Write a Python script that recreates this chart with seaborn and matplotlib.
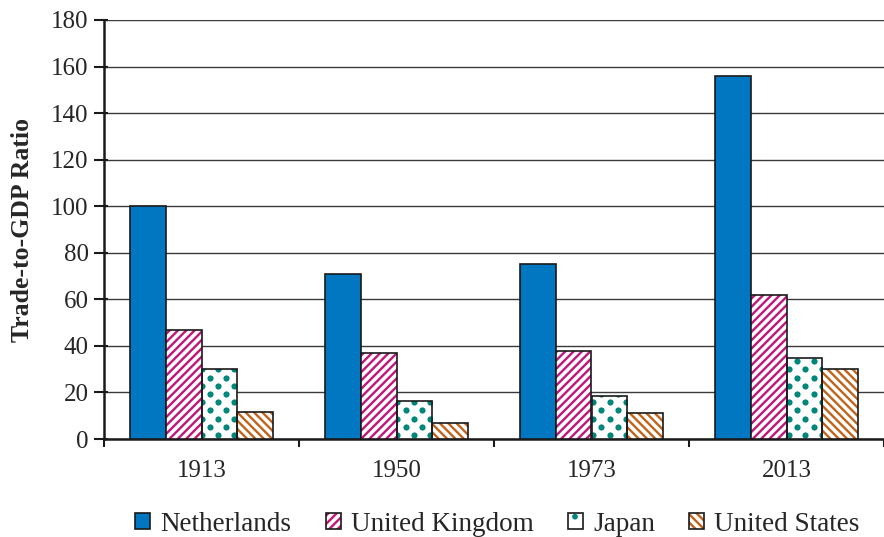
import numpy as np
import pandas as pd
import matplotlib
matplotlib.use("Agg")
import matplotlib.pyplot as plt
from matplotlib.patches import Patch, Rectangle
from matplotlib.legend_handler import HandlerTuple
import seaborn as sns

# ---- data -------------------------------------------------------------
years = ["1913", "1950", "1973", "2013"]
countries = ["Netherlands", "United Kingdom", "Japan", "United States"]
netherlands = [100, 71, 75, 156]
united_kingdom = [47, 37, 38, 62]
japan = [30, 16.5, 18.5, 35]
united_states = [11.5, 7, 11, 30]
y_ticks = [0, 20, 40, 60, 80, 100, 120, 140, 160, 180]
y_label = "Trade-to-GDP Ratio"

# ---- styling ----------------------------------------------------------
colors = {
    "Netherlands": "#0077C0",
    "United Kingdom": "#C0157A",
    "Japan": "#00857A",
    "United States": "#C0641C",
}
hatches = {"United Kingdom": "////", "United States": "\\\\\\\\"}
edge = "#1a1a1a"

sns.set_style("white")
plt.rcParams["font.family"] = ["Liberation Serif", "DejaVu Serif"]
plt.rcParams["hatch.linewidth"] = 1.7

df = pd.DataFrame({
    "year": years * 4,
    "country": np.repeat(countries, len(years)),
    "value": netherlands + united_kingdom + japan + united_states,
})

fig = plt.figure(figsize=(8.84, 5.37), dpi=100)
ax = fig.add_axes([104 / 884, 98 / 537, 780 / 884, 419 / 537])

sns.barplot(
    data=df, x="year", y="value", hue="country",
    order=years, hue_order=countries, palette=colors,
    width=0.73, saturation=1, edgecolor=edge, linewidth=1.2,
    legend=False, ax=ax, zorder=3,
)

ax.set_xlim(-0.5, 3.457)
ax.set_ylim(0, 180)

# per-pixel scale of the data axes, for the dotted fill
p0 = ax.transData.transform((0, 0))
p1 = ax.transData.transform((1, 1))
px_x, px_y = p1 - p0
dot_dx = 16.5 / px_x
dot_dy = 8.2 / px_y

for name, container in zip(countries, ax.containers):
    if name == "Netherlands":
        continue
    for bar in container:
        x0, y0 = bar.get_x(), bar.get_y()
        w, h = bar.get_width(), bar.get_height()
        bar.set_facecolor("white")
        bar.set_linewidth(0)
        if name in hatches:
            bar.set_edgecolor(colors[name])
            bar.set_hatch(hatches[name])
        else:
            bar.set_edgecolor("white")
            xs, ys = [], []
            k = 0
            y = dot_dy * 0.5
            while y < h + dot_dy:
                off = (k % 2) * dot_dx / 2
                start = np.floor((x0 - off) / dot_dx) * dot_dx + off
                for x in np.arange(start, x0 + w + dot_dx, dot_dx):
                    xs.append(x)
                    ys.append(y)
                k += 1
                y += dot_dy
            sc = ax.scatter(xs, ys, s=20, color=colors[name], linewidths=0, zorder=3.5)
            sc.set_clip_path(bar)
        ax.add_patch(Rectangle((x0, y0), w, h, fill=False, edgecolor=edge,
                               linewidth=1.2, zorder=4))

# ---- axes -------------------------------------------------------------
ax.set_yticks(y_ticks)
ax.set_yticks(y_ticks, minor=True)
ax.yaxis.remove_overlapping_locs = False
ax.yaxis.grid(True, which="major", color="#3a3a3a", linewidth=1.0)
ax.xaxis.grid(False)
ax.set_axisbelow(True)
for side in ("top", "right"):
    ax.spines[side].set_visible(False)
for side in ("left", "bottom"):
    ax.spines[side].set_color(edge)
    ax.spines[side].set_linewidth(1.8)

ax.tick_params(axis="y", which="major", direction="out", length=7.5, width=1.5,
               color=edge, labelsize=18, pad=3.5, left=True)
ax.tick_params(axis="y", which="minor", direction="in", length=3, width=1.5,
               color=edge, left=True, labelleft=False)
ax.set_xticks([-0.5, 0.5, 1.5, 2.5, 3.5], minor=True)
ax.tick_params(axis="x", which="minor", direction="out", length=6, width=1.5,
               color=edge, bottom=True)
ax.tick_params(axis="x", which="major", length=0, labelsize=18, pad=15)
ax.set_xlabel("")
ax.set_ylabel(y_label, fontsize=18.5, fontweight="bold")
ax.yaxis.set_label_coords(-0.09, 0.5)

# ---- legend -----------------------------------------------------------
handles = []
for name in countries:
    if name == "Netherlands":
        handles.append(Patch(facecolor=colors[name], edgecolor=edge, linewidth=1.2))
    else:
        fill = Patch(facecolor="white", edgecolor=colors[name],
                     hatch=hatches.get(name, "."), linewidth=0)
        outline = Patch(facecolor="none", edgecolor=edge, linewidth=1.2)
        handles.append((fill, outline))

fig.legend(
    handles, countries, loc="center", bbox_to_anchor=(0.5628, 0.024),
    ncol=4, frameon=False, fontsize=19.5, handlelength=0.56, handleheight=0.56,
    handletextpad=0.38, columnspacing=1.25,
    handler_map={tuple: HandlerTuple(ndivide=1, pad=0)},
)

fig.savefig("out.png", dpi=100)
